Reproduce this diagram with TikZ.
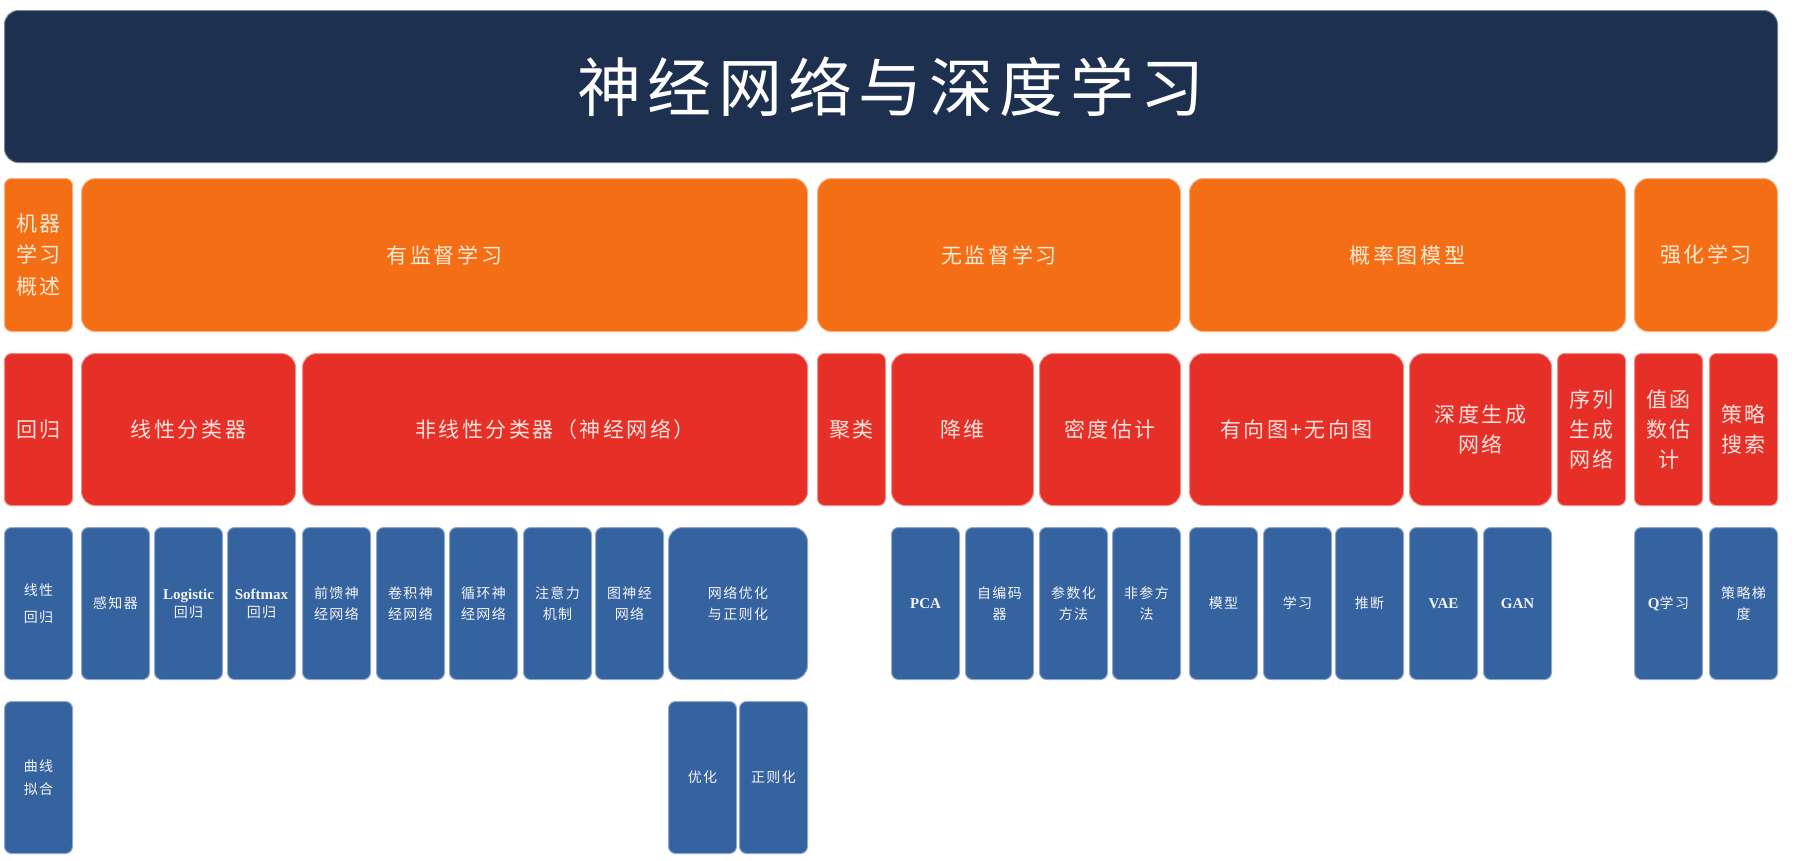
\documentclass[tikz,border=0pt]{standalone}
\usepackage{fontspec}
\setmainfont{Liberation Serif}
\newfontfamily\cjk{Noto Sans CJK SC}
\newfontfamily\cjkT[LetterSpace=10]{Noto Sans CJK SC}
\newfontfamily\cjkM[LetterSpace=12]{Noto Sans CJK SC}
\newfontfamily\cjkS[LetterSpace=10]{Noto Sans CJK SC}
\newfontfamily\lat{Liberation Serif Bold}
\definecolor{navy}{HTML}{1D3050}
\definecolor{orng}{HTML}{F46E16}
\definecolor{redc}{HTML}{E63027}
\definecolor{bluc}{HTML}{3563A0}
\definecolor{otxt}{HTML}{FDEBD8}
\definecolor{rtxt}{HTML}{FBE3DE}
\definecolor{btxt}{HTML}{F4F4F8}
\tikzset{
  bx/.style={rectangle, inner sep=0pt, anchor=north west, align=center, line width=1pt, rounded corners=7pt},
  wide/.style={rounded corners=14pt},
  ttl/.style={bx, wide, fill=navy, draw=navy!60!white, text=white, font=\cjkT\fontsize{64}{70}\selectfont},
  org/.style={bx, fill=orng, draw=orng!55!white, text=otxt, font=\cjkM\fontsize{21}{31.5}\selectfont, minimum height=153pt},
  rd/.style={bx, fill=redc, draw=redc!55!white, text=rtxt, font=\cjkM\fontsize{21}{30}\selectfont, minimum height=152pt},
  bl/.style={bx, fill=bluc, draw=bluc!55!white, text=btxt, font=\cjkS\fontsize{14}{21}\selectfont, minimum height=152pt},
  nar/.style={minimum width=68pt}
}
\begin{document}
\begin{tikzpicture}[x=1pt,y=-1pt]
\useasboundingbox (0,0) rectangle (1805,860);
% title
\node[ttl, minimum width=1773pt, minimum height=152pt] (title) at (4,10) {神经网络与深度学习};
% row 2
\node[org, nar] (o0) at (4,178) {机器\\学习\\概述};
\node[org, wide, minimum width=726pt] (o1) at (81,178) {有监督学习};
\node[org, wide, minimum width=363pt] (o2) at (817,178) {无监督学习};
\node[org, wide, minimum width=436pt] (o3) at (1189,178) {概率图模型};
\node[org, wide, minimum width=143pt] (o4) at (1634,178) {强化学习};
% row 3
\node[rd, nar] (r0) at (4,353) {回归};
\node[rd, wide, minimum width=214pt] (r1) at (81,353) {线性分类器};
\node[rd, wide, minimum width=505pt] (r2) at (302,353) {非线性分类器（神经网络）};
\node[rd, nar] (r3) at (817,353) {聚类};
\node[rd, wide, minimum width=142pt] (r4) at (891,353) {降维};
\node[rd, wide, minimum width=141pt] (r5) at (1039,353) {密度估计};
\node[rd, wide, minimum width=214pt] (r6) at (1189,353) {有向图+无向图};
\node[rd, wide, minimum width=142pt] (r7) at (1409,353) {深度生成\\网络};
\node[rd, nar] (r8) at (1557,353) {序列\\生成\\网络};
\node[rd, nar] (r9) at (1634,353) {值函\\数估\\计};
\node[rd, nar] (r10) at (1709,353) {策略\\搜索};
% row 4
\node[bl, nar, font=\cjkS\fontsize{14}{27}\selectfont] (b0) at (4,527) {线性\\回归};
\node[bl, nar] (b1) at (81,527) {感知器};
\node[bl, nar, font=\fontsize{14}{18}\selectfont] (b2) at (154,527) {{\lat\fontsize{15}{18}\selectfont Logistic}\\{\cjkS 回归}};
\node[bl, nar, font=\fontsize{14}{18}\selectfont] (b3) at (227,527) {{\lat\fontsize{15}{18}\selectfont Softmax}\\{\cjkS 回归}};
\node[bl, nar] (b4) at (302,527) {前馈神\\经网络};
\node[bl, nar] (b5) at (376,527) {卷积神\\经网络};
\node[bl, nar] (b6) at (449,527) {循环神\\经网络};
\node[bl, nar] (b7) at (523,527) {注意力\\机制};
\node[bl, nar] (b8) at (595,527) {图神经\\网络};
\node[bl, wide, minimum width=139pt] (b9) at (668,527) {网络优化\\与正则化};
\node[bl, nar, font=\lat\fontsize{15}{18}\selectfont] (b12) at (891,527) {PCA};
\node[bl, nar] (b13) at (965,527) {自编码\\器};
\node[bl, nar] (b14) at (1039,527) {参数化\\方法};
\node[bl, nar] (b15) at (1112,527) {非参方\\法};
\node[bl, nar] (b16) at (1189,527) {模型};
\node[bl, nar] (b17) at (1263,527) {学习};
\node[bl, nar] (b18) at (1335,527) {推断};
\node[bl, nar, font=\lat\fontsize{15}{18}\selectfont] (b19) at (1409,527) {VAE};
\node[bl, nar, font=\lat\fontsize{15}{18}\selectfont] (b20) at (1483,527) {GAN};
\node[bl, nar] (b22) at (1634,527) {{\lat\fontsize{15}{18}\selectfont Q}学习};
\node[bl, nar] (b23) at (1709,527) {策略梯\\度};
% row 5
\node[bl, nar, font=\cjkS\fontsize{14}{23}\selectfont] (c0) at (4,701) {曲线\\拟合};
\node[bl, nar] (c9) at (668,701) {优化};
\node[bl, nar] (c10) at (739,701) {正则化};
\end{tikzpicture}
\end{document}
